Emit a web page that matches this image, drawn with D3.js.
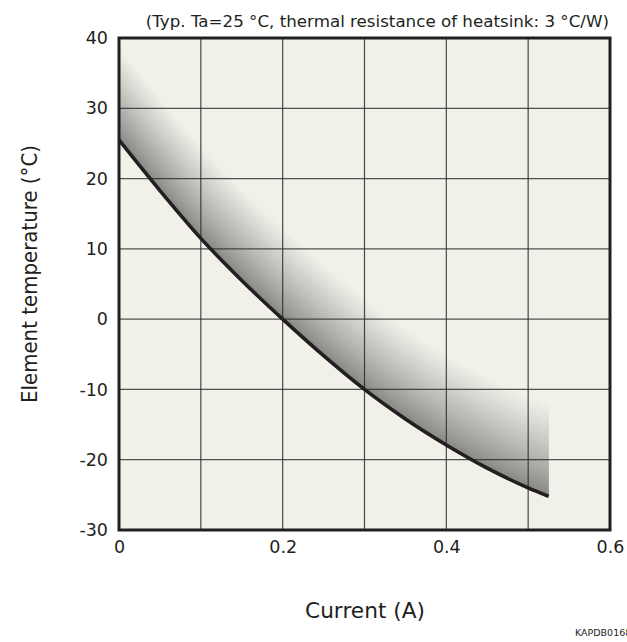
<!DOCTYPE html>
<html><head><meta charset="utf-8">
<script src="https://cdn.jsdelivr.net/npm/d3@7"></script>
<style>body{margin:0;background:#fff}text{font-family:"DejaVu Sans",sans-serif;fill:#231f20}</style>
</head><body>
<svg id="c" width="627" height="642"></svg>
<script>
const currents = [0, 0.05, 0.1, 0.15, 0.2, 0.25, 0.3, 0.35, 0.4, 0.45, 0.5, 0.525];
const baseTemp = [25.5, 18.3, 11.5, 5.5, 0, -5.2, -10, -14.2, -17.9, -21.2, -24.0, -25.2];
const topTemp  = [38.5, 31.3, 24.5, 18.4, 12.8, 7.6, 2.8, -1.5, -5.2, -8.4, -11.2, -12.2];
const xTicks = [0, 0.2, 0.4, 0.6];
const yTicks = [40, 30, 20, 10, 0, -10, -20, -30];
const title = "(Typ. Ta=25 °C, thermal resistance of heatsink: 3 °C/W)";

const svg = d3.select("#c");
const L = 119, R = 610, T = 38, B = 530;
const x = d3.scaleLinear().domain([0, 0.6]).range([L, R]);
const y = d3.scaleLinear().domain([-30, 40]).range([B, T]);

svg.append("rect").attr("x", L).attr("y", T).attr("width", R - L).attr("height", B - T).attr("fill", "#f1f0e9");

svg.append("clipPath").attr("id", "pc").append("rect").attr("x", L).attr("y", T).attr("width", R - L).attr("height", B - T);

// band of curves
const N = 60;
const line = d3.line().x(d => x(d[0])).y(d => y(d[1])).curve(d3.curveMonotoneX);
const col = d3.interpolateRgb("#878785", "#f1f0e9");
const band = svg.append("g").attr("clip-path", "url(#pc)");
for (let k = N; k >= 0; k--) {
  const t = k / N;
  const pts = currents.map((c, i) => [c, baseTemp[i] + (topTemp[i] - baseTemp[i]) * t]);
  band.append("path").attr("d", line(pts)).attr("fill", "none")
    .attr("stroke", col(Math.pow(t, 0.85))).attr("stroke-width", 3);
}

// grid
const g = svg.append("g");
d3.range(1, 6).forEach(i => {
  g.append("line").attr("x1", x(i * 0.1)).attr("x2", x(i * 0.1)).attr("y1", T).attr("y2", B)
    .attr("stroke", "#2a2a2a").attr("stroke-width", 1.2).attr("opacity", 0.85);
});
yTicks.slice(1, -1).forEach(v => {
  g.append("line").attr("x1", L).attr("x2", R).attr("y1", y(v)).attr("y2", y(v))
    .attr("stroke", "#2a2a2a").attr("stroke-width", 1.2).attr("opacity", 0.8);
});

// main curve
svg.append("path").attr("d", line(currents.map((c, i) => [c, baseTemp[i]])))
  .attr("fill", "none").attr("stroke", "#231f20").attr("stroke-width", 3.5);

// frame
svg.append("rect").attr("x", L).attr("y", T).attr("width", R - L).attr("height", B - T)
  .attr("fill", "none").attr("stroke", "#231f20").attr("stroke-width", 3);

const xa = svg.append("g").attr("transform", `translate(0,${B})`)
  .call(d3.axisBottom(x).tickValues(xTicks).tickSize(0).tickPadding(11).tickFormat(d => d === 0 ? "0" : d3.format(".1f")(d)));
xa.select(".domain").remove();
xa.selectAll("text").attr("font-size", 17.5).style("font-family", null);

const ya = svg.append("g").attr("transform", `translate(${L},0)`)
  .call(d3.axisLeft(y).tickValues(yTicks).tickSize(0).tickPadding(11).tickFormat(d => String(d)));
ya.select(".domain").remove();
ya.selectAll("text").attr("font-size", 17.5).style("font-family", null);

svg.append("text").attr("x", 609).attr("y", 27).attr("text-anchor", "end").attr("font-size", 16.7).text(title);
svg.append("text").attr("x", 365).attr("y", 618).attr("text-anchor", "middle").attr("font-size", 21)
  .attr("textLength", 120).attr("lengthAdjust", "spacingAndGlyphs").text("Current (A)");
svg.append("text").attr("transform", "translate(37,274) rotate(-90)").attr("text-anchor", "middle").attr("font-size", 20.5)
  .attr("textLength", 258).attr("lengthAdjust", "spacingAndGlyphs").text("Element temperature (°C)");
svg.append("text").attr("x", 575).attr("y", 636).attr("font-size", 9.5).text("KAPDB0168");
</script>
</body></html>
